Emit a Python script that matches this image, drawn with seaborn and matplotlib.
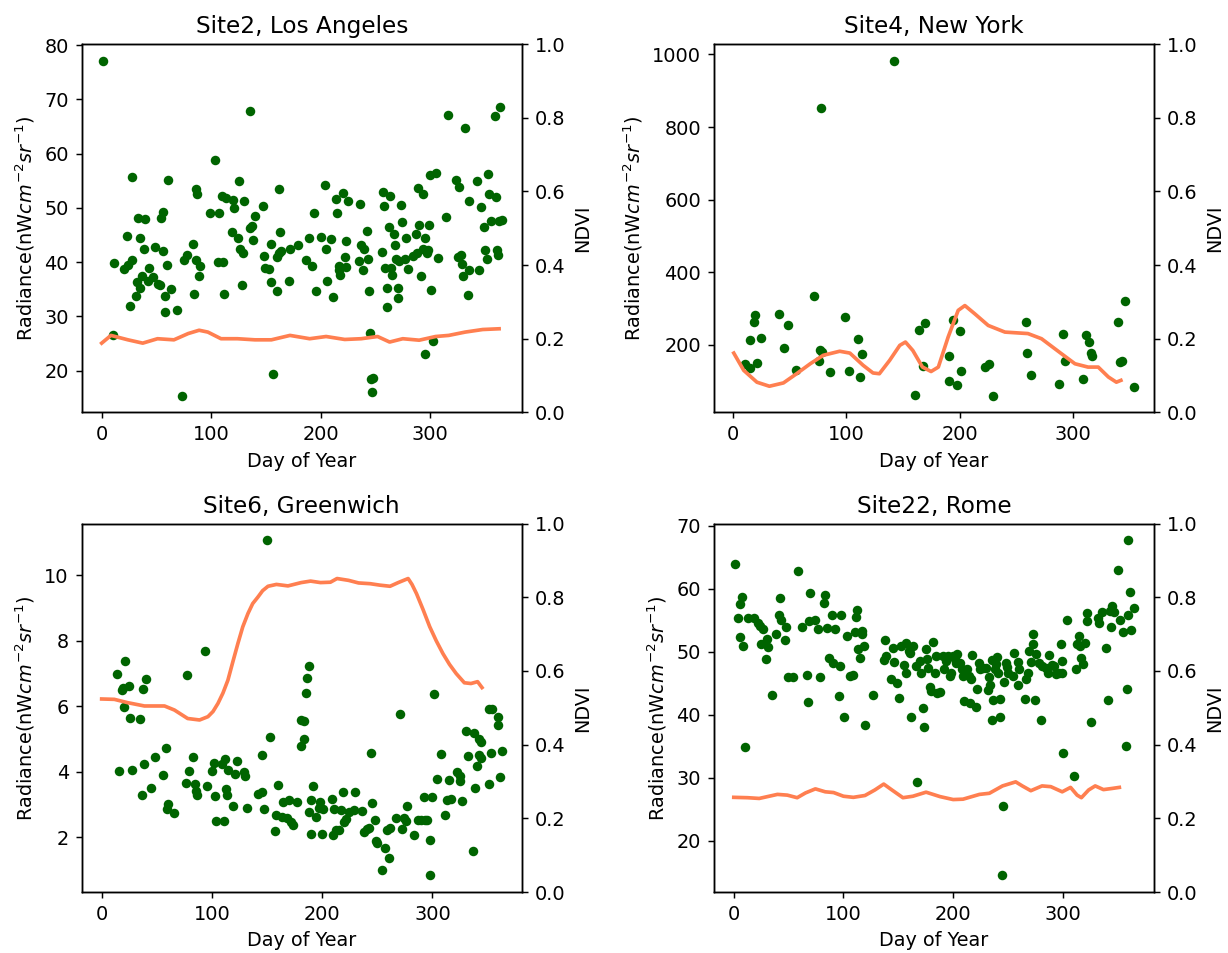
import numpy as np
import seaborn as sns
from matplotlib import pyplot as plt

# ---- Site2, Los Angeles ----
la_day = [1.2, 10.1, 11.6, 23.2, 20.7, 23.8, 27.4, 28.0, 32.9, 39.9, 34.8, 38.4, 32.3, 35.1, 36.6, 31.4,
          25.6, 43.3, 42.7, 46.6, 48.8, 51.2, 53.7, 54.3, 56.1, 56.4, 59.8, 60.7, 57.9, 63.7, 58.2, 68.6,
          73.8, 75.6, 77.7, 83.8, 86.0, 89.9, 89.0, 84.5, 86.0, 87.5, 98.8, 103.7, 107.3, 106.7, 111.0,
          111.9, 109.8, 114.0, 119.5, 121.3, 125.0, 129.9, 135.7, 118.9, 124.4, 126.5, 128.7, 128.0,
          135.4, 137.2, 140.2, 138.4, 147.3, 148.2, 149.4, 153.0, 154.9, 154.3, 160.1, 162.2, 163.1,
          162.2, 164.0, 156.7, 160.1, 171.0, 172.3, 179.3,
          186.4, 192.1, 189.1, 193.6, 196.1, 200.3, 204.2, 204.8, 206.0, 209.7, 211.5, 214.2, 214.5,
          216.7, 216.4, 217.9, 220.0, 222.1, 223.6, 223.3, 225.2, 235.5, 235.2, 237.0, 238.8, 239.7,
          242.4, 243.0, 244.2, 245.2, 246.4, 247.9, 247.0, 256.7, 257.9, 256.4, 258.8, 260.3, 260.6,
          262.1, 263.3, 264.2, 265.5, 267.3, 267.9, 268.8, 270.3, 270.9, 271.8, 273.0, 274.2, 277.2,
          278.2, 279.7, 284.8, 287.0, 288.5, 290.0, 287.9, 291.5, 293.9, 293.3, 295.5, 297.3, 298.5,
          298.8, 295.2, 300.9, 302.7, 300.0, 305.1, 307.3, 314.8, 316.1, 323.9, 326.7, 325.2, 328.5,
          328.8, 330.0, 332.1, 334.2, 335.8, 335.5, 342.4, 344.8, 346.9, 349.1, 350.0, 351.8, 353.0,
          353.9, 355.8, 358.8, 360.0, 361.2, 361.8, 363.6, 363.3, 365.5]
la_rad = [77.1, 26.6, 39.9, 44.8, 38.7, 39.5, 40.4, 55.6, 48.2, 48.0, 44.4, 42.4, 36.3, 35.3, 37.5, 33.7,
          32.0, 38.9, 36.6, 37.2, 42.8, 36.0, 35.8, 48.2, 49.2, 42.0, 39.4, 55.2, 33.7, 35.0, 30.8, 31.2,
          15.4, 40.4, 41.3, 43.3, 40.4, 39.2, 37.5, 34.2, 53.4, 52.6, 49.1, 58.8, 49.0, 40.1, 40.0,
          34.1, 52.1, 51.9, 51.5, 49.9, 54.9, 51.2, 67.9, 45.6, 44.4, 42.4, 41.7, 35.8,
          46.3, 46.7, 48.5, 44.1, 50.4, 41.2, 38.9, 38.8, 36.4, 43.4, 40.9, 53.5, 45.5,
          41.7, 42.0, 19.3, 34.7, 36.5, 42.4, 43.1,
          40.4, 39.3, 44.4, 49.1, 34.7, 44.7, 54.3, 42.5, 36.5, 44.3, 33.6, 51.7, 49.1,
          39.2, 38.6, 37.7, 52.7, 41.0, 43.9, 39.1, 51.2, 50.8, 40.3, 43.2, 38.6, 42.4,
          45.8, 40.6, 34.7, 26.9, 18.5, 18.6, 16.0, 52.9, 50.4, 41.8, 38.9, 35.3, 31.7,
          46.4, 52.2, 38.9, 37.7, 45.2, 43.1, 40.6, 35.3, 33.4, 40.3, 50.6, 47.4, 40.6,
          44.4, 38.8, 41.2, 45.2, 53.6, 46.9, 41.7, 37.4, 52.5, 42.5, 44.5, 41.7, 42.2,
          46.9, 23.0, 34.8, 25.5, 56.0, 56.5, 40.7, 48.3, 67.1, 55.2, 53.9, 40.9, 41.3,
          39.6, 37.4, 64.7, 33.9, 51.2, 38.6, 54.9, 38.6, 50.2, 46.4, 42.3, 40.5, 56.2,
          52.6, 47.5, 67.0, 52.0, 42.2, 41.3, 68.5, 47.5, 47.8]
la_nd_day = [0, 8.5, 24, 37.5, 51, 66, 79, 89, 97, 109, 124, 140, 155, 172, 190, 205, 222, 237, 252,
             263, 275, 290, 305, 317, 332, 348, 363]
la_nd_val = [0.188, 0.209, 0.197, 0.188, 0.200, 0.197, 0.214, 0.223, 0.218, 0.200, 0.200, 0.197,
             0.197, 0.209, 0.200, 0.206, 0.198, 0.200, 0.206, 0.191, 0.200, 0.196, 0.206, 0.209,
             0.218, 0.225, 0.227]

# ---- Site4, New York ----
ny_day = [141.8, 77.5, 71.6, 10.5, 14.6, 21.1, 14.6, 18.4, 19.6, 24.6, 40.4, 48.2, 44.7, 55.6, 75.7,
          76.6, 78.7, 85.4, 99.1, 101.8, 110.5, 113.5, 111.7, 160.8, 163.7, 169.0, 167.3, 193.5,
          200.0, 190.0, 190.6, 197.1, 201.2, 222.0, 225.9, 229.1, 257.9, 259.1, 262.4, 287.6,
          291.2, 292.4, 308.5, 311.5, 313.5, 315.3, 316.8, 339.4, 340.9, 342.9, 345.3, 353.5]
ny_rad = [982.6, 851.4, 333.0, 147.7, 135.8, 148.6, 213.8, 262.4, 282.6, 219.3, 283.5, 254.1, 190.8,
          129.4, 154.1, 186.2, 179.8, 124.8, 276.1, 128.4, 216.5, 175.2, 111.0, 61.5, 241.3, 259.6,
          140.4, 267.0, 238.5, 169.7, 100.9, 89.9, 128.4, 138.5, 147.7, 59.6, 263.3, 177.1, 116.5,
          92.7, 228.4, 154.1, 105.5, 227.5, 207.3, 177.1, 167.9, 263.3, 151.4, 155.0, 319.3, 82.6]
ny_nd_day = [0.6, 9.4, 21, 32, 44.4, 56, 68, 79.5, 94, 103, 114.6, 123.4, 129, 138, 147, 152, 158.5,
             167, 174.6, 181, 189.7, 198.5, 204.4, 213, 225, 239.7, 260, 272, 289.7, 301.5, 313,
             322, 331, 338, 342]
ny_nd_val = [0.161, 0.114, 0.082, 0.071, 0.080, 0.105, 0.132, 0.155, 0.166, 0.161, 0.128, 0.107,
             0.105, 0.141, 0.182, 0.191, 0.168, 0.123, 0.111, 0.123, 0.205, 0.277, 0.290, 0.268,
             0.236, 0.218, 0.214, 0.200, 0.159, 0.132, 0.123, 0.123, 0.096, 0.082, 0.087]

# ---- Site6, Greenwich ----
gw_day = [13.9, 20.9, 18.5, 19.4, 24.5, 37.3, 40.3, 20.3, 25.8, 34.5, 15.5, 27.3, 38.2, 36.4, 44.5,
          48.5, 55.5, 58.8, 60.6, 59.4, 66.0, 77.3, 93.6, 76.7, 79.1, 83.3, 84.8, 86.0, 86.7, 95.5,
          100.0, 101.8, 102.4, 103.6, 109.0, 111.8, 110.9, 112.7, 114.0, 114.8, 119.0, 121.0, 123.0,
          129.0, 129.7, 131.8, 141.8, 145.5, 145.0, 147.0, 152.7, 150.3, 157.6, 158.0, 160.3, 164.8,
          169.7, 163.6, 168.2, 172.0, 174.0, 177.0, 181.0, 180.6,
          183.5, 183.5, 185.6, 186.5, 188.0, 191.6, 189.5, 188.0, 190.0, 194.6, 197.9, 196.7, 200.6,
          200.3, 208.7, 211.0, 209.6, 212.6, 215.0, 218.5, 217.0, 219.5, 222.0, 224.0, 228.5, 229.4,
          236.6, 238.1, 240.5, 242.3, 244.4, 245.0, 247.7, 248.6, 250.2, 254.7, 257.4, 259.2, 260.7,
          261.9, 266.7, 270.3, 272.4, 273.9, 276.0, 277.2, 282.9, 287.1, 290.1, 292.2, 293.1, 295.5,
          298.2, 297.6, 299.7, 301.2, 304.5, 308.1, 311.1, 313.2, 315.0, 317.1, 321.9, 324.9, 325.5,
          327.0, 330.3, 332.7, 336.6, 337.8, 339.0, 340.5, 342.0, 344.1, 342.0, 344.1, 351.0, 351.7,
          354.0, 352.9, 359.5, 359.2, 361.0, 363.0]
gw_rad = [6.99, 7.40, 6.50, 6.55, 6.63, 6.54, 6.84, 5.97, 5.64, 5.61, 4.03, 4.05, 4.24, 3.30, 3.50,
          4.45, 3.90, 4.73, 3.03, 2.87, 2.74, 6.95, 7.69, 3.66, 4.03, 4.44, 3.63, 3.40, 3.28, 3.56,
          4.03, 4.26, 3.27, 2.49, 4.23, 4.39, 2.49, 3.46, 3.29, 4.07, 2.97, 3.94, 4.32,
          4.00, 3.88, 2.90, 3.32, 3.38, 4.50, 2.87, 5.07, 11.07, 2.18, 2.68, 3.60, 3.08,
          3.15, 2.61, 2.59, 2.47, 2.39, 3.07, 5.59, 4.78,
          5.54, 5.01, 6.40, 6.86, 7.24, 3.58, 3.15, 2.77, 2.10, 2.62, 3.07, 2.90, 2.85,
          2.10, 3.18, 2.87, 2.08, 2.21, 2.22, 3.38, 2.83, 2.46, 2.56, 2.76, 2.83, 3.38,
          2.81, 2.16, 2.24, 2.29, 4.56, 3.05, 2.54, 1.88, 1.84, 0.99, 1.66, 2.22, 1.37,
          2.29, 2.59, 5.78, 2.26, 2.59, 2.49, 2.97, 2.08, 2.54, 2.54, 3.22, 2.54, 2.52,
          1.91, 0.84, 3.22, 6.38, 3.78, 4.54, 2.69, 3.15, 3.76, 3.17, 3.98, 3.71, 3.86,
          3.10, 5.26, 4.47, 1.58, 5.20, 3.51, 4.17, 5.01, 4.90, 4.52, 4.42, 3.63, 5.91,
          5.91, 4.57, 5.66, 5.42, 3.83, 4.65]
gw_nd_day = [0, 11.5, 23.6, 38.8, 57, 66, 78, 88.8, 96.4, 101, 105.5, 110, 114.5, 119, 123.6, 128,
             132.7, 137, 141.8, 146, 150.9, 158.5, 169, 181, 189.5, 198.5, 207.5, 213.5, 224, 233,
             243.5, 252.5, 261.6, 269, 278, 281.5, 285.6, 291.5, 297.6, 303.5, 309.6, 315.5, 321.6,
             329, 335, 341, 345]
gw_nd_val = [0.524, 0.523, 0.514, 0.505, 0.505, 0.494, 0.471, 0.467, 0.476, 0.490, 0.512, 0.540,
             0.575, 0.625, 0.675, 0.720, 0.756, 0.783, 0.801, 0.818, 0.830, 0.835, 0.831, 0.840,
             0.844, 0.840, 0.841, 0.851, 0.846, 0.839, 0.837, 0.833, 0.830, 0.840, 0.851, 0.835,
             0.810, 0.767, 0.720, 0.682, 0.647, 0.618, 0.593, 0.568, 0.566, 0.571, 0.555]

# ---- Site22, Rome ----
ro_day = [1.5, 3.6, 5.4, 7.5, 6.0, 8.7, 10.5, 13.3, 18.1, 21.7, 24.1, 26.5, 24.7, 30.1, 31.3, 29.5,
          35.2, 38.6, 42.2, 41.6, 43.4, 47.3, 46.7, 49.7, 54.2, 58.4, 62.3, 66.3, 67.8, 68.4, 69.6,
          73.8, 76.8, 78.3, 81.9, 83.4, 84.9, 86.4, 89.2, 90.4, 92.5, 96.4, 97.6, 95.5, 100.6, 103.0,
          106.0, 108.4, 110.2, 111.4, 112.7, 113.3, 115.4, 116.6, 117.2, 118.4, 119.3, 127.1, 137.7,
          136.7, 138.6, 145.2, 145.8, 143.7, 149.1, 150.9, 152.7, 155.1, 156.6, 156.6, 159.6, 161.1,
          163.3, 161.7, 166.3, 169.9, 170.8, 172.3, 173.5, 175.3, 175.9, 177.1, 178.6, 180.1, 182.0,
          183.1, 184.3, 185.2, 166.9,
          188.0, 191.0, 193.4, 191.6, 195.5, 197.0, 197.9, 199.4, 201.5, 203.6, 202.4, 206.0, 209.0,
          208.4, 210.2, 212.7, 215.7, 217.5, 214.5, 216.3, 221.1, 221.7, 223.5, 224.1, 227.1, 230.1,
          232.5, 233.7, 231.9, 235.0, 235.0, 236.7, 238.3, 239.8, 239.2, 241.0, 242.5, 243.1, 245.8,
          244.9, 246.7, 248.2, 249.4, 250.3, 254.2, 255.7, 259.0, 258.7, 260.2, 265.7, 266.3, 268.4,
          269.3, 270.8, 272.9, 273.2, 274.7, 275.9, 278.3, 279.8, 281.3, 284.3, 286.7, 287.3, 290.4,
          291.9, 293.4, 296.4, 297.9, 298.8, 299.4, 300.3, 304.2, 309.9, 312.0, 312.9, 314.5, 316.0,
          316.6, 318.1, 319.9, 321.7, 322.3, 325.3, 331.9, 333.4, 335.5, 339.2, 340.9, 343.1, 344.9,
          344.0, 346.4, 350.6, 352.4, 354.5, 358.1, 357.5, 359.6, 359.3, 361.1, 361.7, 364.8]
ro_rad = [63.9, 55.3, 57.6, 58.7, 52.3, 50.9, 34.8, 55.3, 55.3, 54.6, 54.1, 53.7, 51.3, 52.1, 50.7, 48.8,
          43.1, 52.9, 58.5, 55.8, 55.1, 53.9, 51.9, 46.0, 46.0, 62.8, 54.0, 46.3, 42.0, 54.9, 59.4,
          55.1, 53.7, 46.0, 57.8, 59.0, 53.8, 49.0, 55.9, 48.3, 53.7, 47.8, 55.9, 42.9, 39.6, 52.5,
          46.1, 46.3, 53.1, 55.5, 56.7, 50.4, 49.0, 53.3, 52.9, 51.0, 38.4, 43.2, 51.9,
          48.7, 49.4, 50.6, 48.4, 45.6, 45.1, 42.6, 50.9, 47.9, 51.4, 46.6, 50.2, 49.8,
          50.9, 39.6, 47.7, 48.6, 46.6, 41.1, 38.1, 50.5, 48.9, 47.4, 44.4, 43.8, 51.5,
          46.7, 49.3, 43.4, 29.3,
          43.6, 49.3, 48.5, 47.3, 49.3, 46.1, 46.6, 49.3, 48.9, 49.6, 48.3, 48.3, 46.1,
          47.2, 42.2, 47.2, 41.8, 49.5, 46.2, 45.6, 41.3, 44.1, 48.3, 47.2, 47.5, 47.5,
          46.0, 44.7, 43.9, 39.2, 48.7, 42.4, 47.2, 49.1, 48.1, 46.7, 39.6, 42.5, 25.5,
          14.5, 45.2, 48.3, 47.6, 46.7, 46.2, 49.8, 48.4, 44.7, 47.3, 42.5, 45.6, 46.6,
          50.1, 48.4, 51.2, 52.8, 42.3, 49.6, 48.3, 39.1, 47.7, 47.5, 46.7, 49.5, 47.9,
          47.7, 46.4, 46.7, 51.3, 46.7, 48.6, 34.0, 55.0, 30.2, 47.2, 51.3, 52.5, 50.9,
          49.0, 48.0, 51.4, 56.2, 54.9, 38.9, 55.4, 54.6, 56.3, 50.6, 42.3, 56.5, 57.2,
          54.0, 56.3, 63.0, 55.0, 53.1, 44.1, 35.1, 55.9, 67.7, 59.5, 53.5, 57.0]
ro_nd_day = [0, 12.7, 23.2, 39.8, 48.8, 57.8, 65.4, 74.4, 83.4, 91, 100, 109, 119.6, 128.6, 136.7,
             143.7, 154.2, 163.3, 175.3, 188, 200, 209, 224, 233, 245, 257, 263, 270.8, 281, 289,
             299.4, 307, 313, 316.9, 323.5, 329.5, 337, 344.6, 351.5]
ro_nd_val = [0.257, 0.256, 0.254, 0.265, 0.263, 0.256, 0.269, 0.280, 0.272, 0.270, 0.260, 0.257,
             0.262, 0.277, 0.293, 0.278, 0.256, 0.260, 0.271, 0.259, 0.251, 0.252, 0.265, 0.268,
             0.288, 0.299, 0.288, 0.275, 0.288, 0.286, 0.272, 0.284, 0.263, 0.256, 0.277, 0.288,
             0.278, 0.281, 0.284]

RAD_LABEL = r'Radiance(nW$cm^{-2}sr^{-1}$)'

plt.rcParams['font.size'] = 10.5


def draw_site(ax, title, day, rad, nd_day, nd_val):
	"""scatter of radiance with the ndvi curve on a twin axis"""
	sns.scatterplot(x=day, y=rad, ax=ax, color='darkgreen', s=27, linewidth=0)
	ax.set_title(title, fontsize=12.6)
	ax.set_xlabel('Day of Year')
	ax.set_ylabel(RAD_LABEL)
	ax.set_xticks([0, 100, 200, 300])
	ax2 = ax.twinx()
	sns.lineplot(x=nd_day, y=nd_val, ax=ax2, color='coral', linewidth=2)
	ax2.set_ylim(0, 1)
	ax2.set_ylabel('NDVI')


fig, axes = plt.subplots(2, 2, figsize=(1228 / 132, 953 / 132), dpi=132)
draw_site(axes[0, 0], 'Site2, Los Angeles', la_day, la_rad, la_nd_day, la_nd_val)
draw_site(axes[0, 1], 'Site4, New York', ny_day, ny_rad, ny_nd_day, ny_nd_val)
draw_site(axes[1, 0], 'Site6, Greenwich', gw_day, gw_rad, gw_nd_day, gw_nd_val)
draw_site(axes[1, 1], 'Site22, Rome', ro_day, ro_rad, ro_nd_day, ro_nd_val)
fig.subplots_adjust(left=0.0665, right=0.9397, bottom=0.064, top=0.9538, wspace=0.436, hspace=0.302)
fig.savefig('out.png', dpi=132)
